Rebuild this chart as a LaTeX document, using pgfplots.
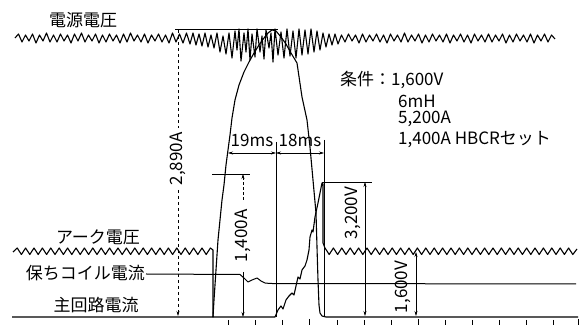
\documentclass[border=0pt]{standalone}
\usepackage{fontspec}
\setmainfont{Noto Sans CJK JP}
\usepackage{pgfplots}
\pgfplotsset{compat=1.18}
\usetikzlibrary{arrows.meta}
\tikzset{
  trace/.style={black, line width=1.1pt, line join=round, mark=none},
  dim/.style={black, line width=0.5pt, mark=none},
  lab/.style={font=\fontsize{17}{20}\selectfont, inner sep=0pt},
  num/.style={font=\fontsize{17}{20}\selectfont, inner sep=0pt}}
\begin{document}
\begin{tikzpicture}
\begin{axis}[scale only axis, width=582pt, height=325pt,
  xmin=0, xmax=582, ymin=0, ymax=325, y dir=reverse, hide axis, clip=false,
  unbounded coords=jump]

% source voltage
\addplot[trace] coordinates {(15,38)(18.5,34)(22,42)(25.5,35)(29,41)(32.5,34)(36,43)(39.5,35)(43,41)(46.5,33)(50,42)(53.5,35)(57,42)(60.5,34)(64,41)(67.5,35)(71,43)(74.5,34)(78,41)(81.5,33)(85,42)(88.5,35)(92,41)(95.5,34)(99,43)(102.5,35)(106,42)(109.5,34)(113,41)(116.5,35)(120,43)(123.5,34)(127,42)(130.5,33)(134,41)(137.5,35)(141,42)(144.5,34)(148,43)(151.5,35)(155,41)(158.5,34)(162,42)(165.5,35)(169,43)(172.5,33)(176,42)(179.5,34)(183,43)(186.5,33)(190,44)
(193,33)(196,45)(199,34)(202,46)(205,33)(208,47)(211,35)(214,48)(217,33)(220,52)(223,36)(226,54)(229,33)(232,58)(235,31)(237,50)(239,29)(241,61)(244,33)(246,52)(248,29)(250,60)(252,34)(255,57)(257,29)(260,52)(262,36)(264,59)(266,30)(269,48)(271,33)(273,62)(275,29)(278,55)(281,32)(284,58)(287,29)(290,56)(293,31)(296,58)(299,29)(302,55)(305,30)(308,54)(311,29)(314,52)(317,31)(320,50)(323,33)(326,47)(329,34)(332,45)(335,34)(338,44)
(341.5,35)(345,42)(348.5,34)(352,41)(355.5,35)(359,43)(362.5,34)(366,42)(369.5,35)(373,41)(376.5,34)(380,42)(383.5,35)(387,43)(390.5,34)(394,41)(397.5,35)(401,42)(404.5,33)(408,42)(411.5,35)(415,41)(418.5,34)(422,43)(425.5,35)(429,42)(432.5,34)(436,41)(439.5,35)(443,42)(446.5,34)(450,43)(453.5,35)(457,41)(460.5,34)(464,42)(467.5,35)(471,43)(474.5,34)(478,41)(481.5,35)(485,42)(488.5,34)(492,42)(495.5,35)(499,41)(502.5,34)(506,43)(509.5,35)(513,42)(516.5,34)(520,41)(523.5,35)(527,42)(530.5,34)(534,43)(537.5,35)(541,41)(544.5,34)(548,42)(551.5,35)(555,39)};

% arc voltage
\addplot[trace] coordinates {(13,252)(17.2,248)(21.4,254.5)(25.6,248)(29.8,254.5)(34,248)(38.2,254.5)(42.4,248)(46.6,254.5)(50.8,248)(55,254.5)(59.2,248)(63.4,254.5)(67.6,248)(71.8,254.5)(76,248)(80.2,254.5)(84.4,248)(88.6,254.5)(92.8,248)(97,254.5)(101.2,248)(105.4,254.5)(109.6,248)(113.8,254.5)(118,248)(122.2,254.5)(126.4,248)(130.6,254.5)(134.8,248)(139,254.5)(143.2,248)(147.4,254.5)(151.6,248)(155.8,254.5)(160,248)(164.2,254.5)(168.4,248)(172.6,254.5)(176.8,248)(181,254.5)(185.2,248)(189.4,254.5)(193.6,248)(197.8,254.5)(202,248)(206.2,254.5)(210.4,248)(213,250)
(213,317)(275,317)(278,310)(281,306)(283,309)(286,300)(289,296)(292,293)(294,295)(296,286)(298,277)(300,279)(302,270)(305,266)(307,260)(309,250)(310,237)(312,230)(313,232)(315,217)(318,203)(320,193)(322,183)(323,184)(323,243)(325,248)
(329.2,254.5)(333.4,248)(337.6,254.5)(341.8,248)(346,254.5)(350.2,248)(354.4,254.5)(358.6,248)(362.8,254.5)(367,248)(371.2,254.5)(375.4,248)(379.6,254.5)(383.8,248)(388,254.5)(392.2,248)(396.4,254.5)(400.6,248)(404.8,254.5)(409,248)(413.2,254.5)(417.4,248)(421.6,254.5)(425.8,248)(430,254.5)(434.2,248)(438.4,254.5)(442.6,248)(446.8,254.5)(451,248)(455.2,254.5)(459.4,248)(463.6,254.5)(467.8,248)(472,254.5)(476.2,248)(480.4,254.5)(484.6,248)(488.8,254.5)(493,248)(497.2,254.5)(501.4,248)(505.6,254.5)(509.8,248)(514,254.5)(518.2,248)(522.4,254.5)(526.6,248)(530.8,254.5)(535,248)(539.2,254.5)(543.4,248)(547.6,254.5)(551.8,248)(556,254.5)(560.2,248)(564.4,254.5)(568.6,248)(572.8,254.5)(577,249)};

% holding coil current
\addplot[trace, line width=1pt] coordinates {(146,274)(240,274.5)(244,278)(248,282)(252,280)(257,278)(261,281)(265,283)(270,283.5)(576,284)};

% main circuit current
\addplot[trace] coordinates {(12,317)(213,317)(214,300)(215,285)(216,270)(217,255)(218,240)(220,220)(222,200)(224,185)(226,165)(228,150)(230,135)(232,118)(235,100)(239,85)(244,72)(249,62)(254,53)(259,45)(264,38)(268,33)(272,30)(276,31)(281,37)(286,44)(291,53)(297,63)(302,97)(307,120)(310,147)(313,180)(316,213)(317,247)(318,280)(319,305)(320,313)(322,316)(326,317)(578,317)};

% peak line 2,890A
\addplot[dim] coordinates {(175,29)(278,29)};
\addplot[dim, dashed] coordinates {(178,30)(178,128)};
\addplot[dim, dashed, -{Stealth[length=5pt,width=3pt]}] coordinates {(178,190)(178,316)};

% 1,400A
\addplot[dim] coordinates {(212,174)(250,174)};
\addplot[dim, densely dashed, {Stealth[length=5pt,width=3pt]}-] coordinates {(243,174)(243,200)};
\addplot[dim, -{Stealth[length=5pt,width=3pt]}] coordinates {(243,272)(243,317)};

% 19ms / 18ms
\addplot[dim, {Stealth[length=5pt,width=3pt]}-{Stealth[length=5pt,width=3pt]}] coordinates {(228,153)(276,153)};
\addplot[dim, {Stealth[length=5pt,width=3pt]}-{Stealth[length=5pt,width=3pt]}] coordinates {(276,153)(324,153)};
\addplot[dim] coordinates {(276,142)(276,317)};
\addplot[dim, line width=0.4pt] coordinates {(324,140)(324,317)};

% 3,200V
\addplot[dim] coordinates {(322,182)(372,182)};
\addplot[dim, {Stealth[length=5pt,width=3pt]}-{Stealth[length=5pt,width=3pt]}] coordinates {(365,182)(365,316)};

% 1,600V
\addplot[dim, {Stealth[length=5pt,width=3pt]}-{Stealth[length=5pt,width=3pt]}] coordinates {(416,252)(416,316)};

% bottom ticks
\addplot[dim] coordinates {(228,320)(228,325)(228,nan)(255,320)(255,325)(255,nan)(282,320)(282,325)(282,nan)(309,319)(309,325)(309,nan)(337,320)(337,325)(337,nan)(364,320)(364,325)(364,nan)(391,320)(391,325)(391,nan)(418,319)(418,325)(418,nan)(445,320)(445,325)(445,nan)(472,320)(472,325)(472,nan)(499,320)(499,325)(499,nan)(526,320)(526,325)(526,nan)(553,320)(553,325)(553,nan)(578,319)(578,325)};

% labels
\node[lab] at (axis cs:83,20) {電源電圧};
\node[lab] at (axis cs:98,237) {アーク電圧};
\node[lab, anchor=east] at (axis cs:145,273) {保ちコイル電流};
\node[lab] at (axis cs:96,305) {主回路電流};

\node[num, rotate=90, fill=white, inner sep=1pt] at (axis cs:178,159) {2,890A};
\node[num, rotate=90, fill=white, inner sep=1pt] at (axis cs:243,236) {1,400A};
\node[num, rotate=90] at (axis cs:353,213) {3,200V};
\node[num, rotate=90] at (axis cs:403,287) {1,600V};
\node[num] at (axis cs:252,140) {19ms};
\node[num] at (axis cs:300,140) {18ms};

\node[num, anchor=west] at (axis cs:340,80) {条件：1,600V};
\node[num, anchor=west] at (axis cs:398,101) {6mH};
\node[num, anchor=west] at (axis cs:398,119) {5,200A};
\node[num, anchor=west] at (axis cs:398,140) {1,400A HBCRセット};
\path (rel axis cs:0,0) rectangle (rel axis cs:1,1);
\end{axis}
\end{tikzpicture}
\end{document}
